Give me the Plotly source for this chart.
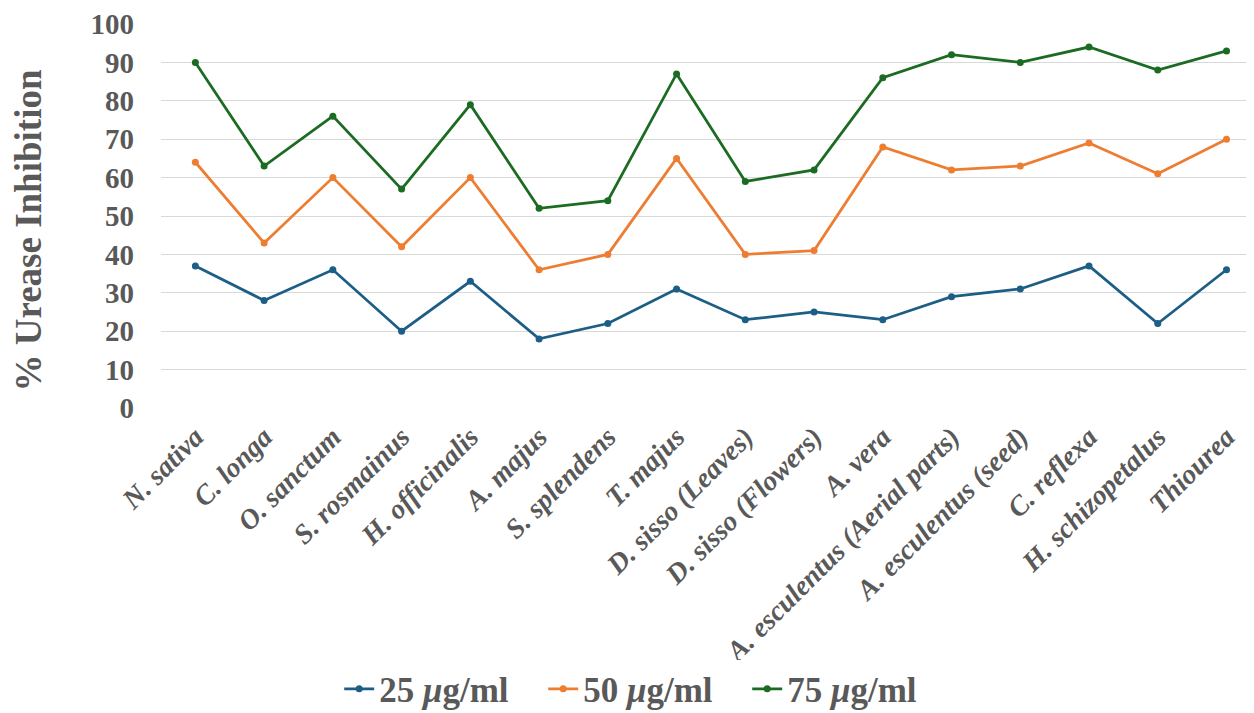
import plotly.graph_objects as go

categories = ["N. sativa", "C. longa", "O. sanctum", "S. rosmainus", "H. officinalis",
              "A. majus", "S. splendens", "T. majus", "D. sisso (Leaves)", "D. sisso (Flowers)",
              "A. vera", "A. esculentus (Aerial parts)", "A. esculentus (seed)", "C. reflexa",
              "H. schizopetalus", "Thiourea"]
s25 = [37, 28, 36, 20, 33, 18, 22, 31, 23, 25, 23, 29, 31, 37, 22, 36]
s50 = [64, 43, 60, 42, 60, 36, 40, 65, 40, 41, 68, 62, 63, 69, 61, 70]
s75 = [90, 63, 76, 57, 79, 52, 54, 87, 59, 62, 86, 92, 90, 94, 88, 93]
series_names = ["25 <i>μ</i>g/ml", "50 <i>μ</i>g/ml", "75 <i>μ</i>g/ml"]
colors = ["#1C5E85", "#ED7D31", "#1B6B22"]

fig = go.Figure()
for name, vals, c in zip(series_names, [s25, s50, s75], colors):
    fig.add_trace(go.Scatter(x=categories, y=vals, name=name, mode="lines+markers",
                             line=dict(color=c, width=2.75),
                             marker=dict(color=c, size=7)))

fig.update_layout(
    width=1246, height=705,
    margin=dict(l=153, r=0, t=16, b=305, autoexpand=False),
    plot_bgcolor="white", paper_bgcolor="white",
    font=dict(family="Liberation Serif", color="#595959"),
    showlegend=True,
    legend=dict(orientation="h", x=0.443, xanchor="center", y=-0.732, yanchor="middle",
                font=dict(size=35, family="Liberation Serif", color="#595959", weight="bold"),
                entrywidth=159, entrywidthmode="pixels", itemwidth=30,
                tracegroupgap=0),
    xaxis=dict(tickangle=-45, showgrid=False, showline=False, zeroline=False, automargin=False,
               range=[-0.5, 15.4],
               tickfont=dict(size=28, family="Liberation Serif", color="#595959",
                             weight="bold", style="italic"),
               ticklabelstandoff=6),
    yaxis=dict(range=[0, 100], dtick=10, showgrid=True, gridcolor="#D9D9D9", gridwidth=1,
               zeroline=False, showline=False, automargin=False, ticklabeloverflow="allow",
               tickfont=dict(size=29, family="Liberation Serif", color="#595959", weight="bold"),
               ticklabelstandoff=26),
    annotations=[dict(text="% Urease Inhibition", xref="paper", yref="paper",
                      x=-0.121, y=0.464, textangle=-90, showarrow=False,
                      xanchor="center", yanchor="middle",
                      font=dict(size=37, family="Liberation Serif", color="#595959", weight="bold"))],
)

fig.write_html("out.html")
